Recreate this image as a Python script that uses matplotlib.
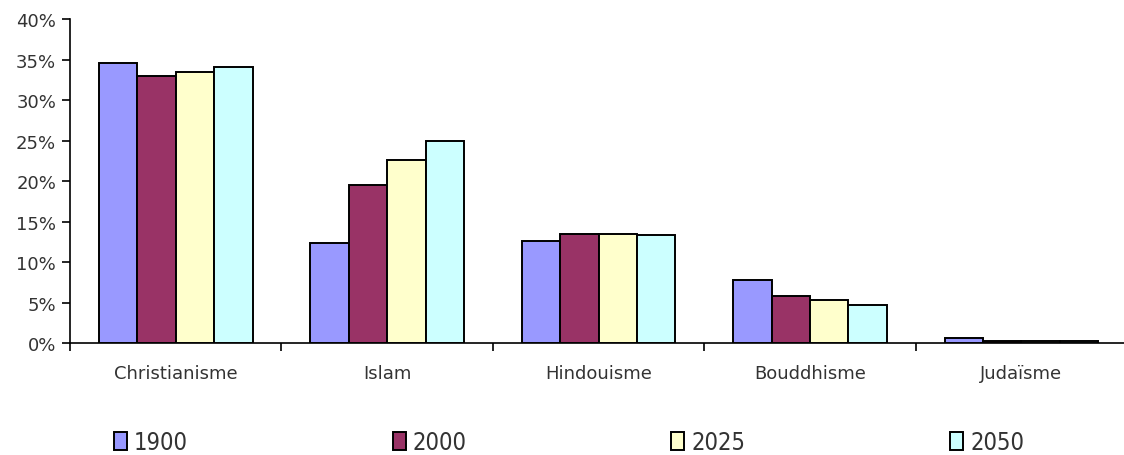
import numpy as np
import matplotlib
matplotlib.use("Agg")
import matplotlib.pyplot as plt
from matplotlib.ticker import FuncFormatter, MultipleLocator

categories = ["Christianisme", "Islam", "Hindouisme", "Bouddhisme", "Judaïsme"]
years = ["1900", "2000", "2025", "2050"]
share_1900 = [34.6, 12.3, 12.6, 7.8, 0.6]
share_2000 = [33.0, 19.5, 13.5, 5.8, 0.2]
share_2025 = [33.5, 22.6, 13.5, 5.3, 0.2]
share_2050 = [34.1, 24.9, 13.3, 4.7, 0.2]
series = [share_1900, share_2000, share_2025, share_2050]
colors = ["#9999FF", "#993366", "#FFFFCC", "#CCFFFF"]

plt.rcParams["font.family"] = ["DejaVu Sans"]
text_color = "#333333"

fig = plt.figure(figsize=(11.24, 4.56), dpi=100)
ax = fig.add_axes([0.0623, 0.2456, 0.9405, 0.7105])

n = len(series)
width = 1 / (n + 1.5)
x = np.arange(len(categories))
handles = []
for i, (vals, col, yr) in enumerate(zip(series, colors, years)):
    offs = (i - (n - 1) / 2) * width
    b = ax.bar(x + offs, vals, width, color=col, edgecolor="black",
               linewidth=1.4, label=yr, zorder=3)
    handles.append(b)

ax.set_xlim(-0.5, len(categories) - 0.5)
ax.set_ylim(0, 40)
ax.yaxis.set_major_locator(MultipleLocator(5))
ax.yaxis.set_major_formatter(FuncFormatter(lambda v, p: f"{v:.0f}%"))

ax.set_xticks(x)
ax.set_xticklabels(categories)
ax.set_xticks(np.arange(len(categories) + 1) - 0.5, minor=True)
ax.tick_params(axis="x", which="major", length=0, pad=15, labelsize=13,
               labelcolor=text_color)
ax.tick_params(axis="x", which="minor", length=6, width=1.2, direction="out",
               color="black")
ax.tick_params(axis="y", length=6, width=1.2, direction="out", labelsize=13,
               labelcolor=text_color, pad=4)

for s in ["top", "right"]:
    ax.spines[s].set_visible(False)
for s in ["left", "bottom"]:
    ax.spines[s].set_linewidth(1.2)

leg = fig.legend(handles=handles, labels=years, ncol=4, loc="lower left",
                 bbox_to_anchor=(0.0983, -0.006, 0.816, 0.06), mode="expand",
                 frameon=False, handlelength=0.55, handleheight=0.8,
                 handletextpad=0.3, borderaxespad=0, borderpad=0.15,
                 prop={"family": "DejaVu Sans", "stretch": "condensed",
                       "size": 17})
for t in leg.get_texts():
    t.set_color(text_color)

fig.savefig("out.png", dpi=100)
